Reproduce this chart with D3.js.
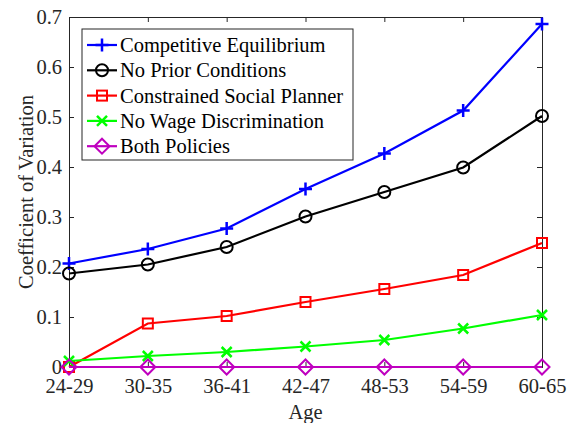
<!DOCTYPE html>
<html>
<head>
<meta charset="utf-8">
<script src="https://cdn.jsdelivr.net/npm/d3@7"></script>
<style>
  body { margin: 0; background: #fff; }
  svg { display: block; }
  text { font-family: "Liberation Serif", "Times New Roman", serif; fill: #262626; }
</style>
</head>
<body>
<svg id="chart" width="569" height="423"></svg>
<script>
// Age groups on the x axis
const ageGroups = ["24-29", "30-35", "36-41", "42-47", "48-53", "54-59", "60-65"];

// Coefficient of variation by scenario
const competitiveEquilibrium = [0.207, 0.236, 0.277, 0.356, 0.427, 0.513, 0.686];
const noPriorConditions      = [0.187, 0.205, 0.240, 0.301, 0.350, 0.399, 0.502];
const constrainedPlanner     = [0.000, 0.087, 0.102, 0.130, 0.156, 0.184, 0.248];
const noWageDiscrimination   = [0.012, 0.022, 0.030, 0.041, 0.054, 0.077, 0.104];
const bothPolicies           = [0, 0, 0, 0, 0, 0, 0];

const yTicks = [0, 0.1, 0.2, 0.3, 0.4, 0.5, 0.6, 0.7];

const series = [
  { name: "Competitive Equilibrium", values: competitiveEquilibrium, color: "#0000ff", marker: "plus" },
  { name: "No Prior Conditions", values: noPriorConditions, color: "#000000", marker: "circle" },
  { name: "Constrained Social Planner", values: constrainedPlanner, color: "#ff0000", marker: "square" },
  { name: "No Wage Discrimination", values: noWageDiscrimination, color: "#00ff00", marker: "cross" },
  { name: "Both Policies", values: bothPolicies, color: "#bf00bf", marker: "diamond" }
];

const FONT = "20.5px";
const svg = d3.select("#chart");
const m = { left: 69, right: 27, top: 17, bottom: 56 };
const W = 569, H = 423;
const iw = W - m.left - m.right, ih = H - m.top - m.bottom;

const x = d3.scalePoint().domain(ageGroups).range([0, iw]);
const y = d3.scaleLinear().domain([0, 0.7]).range([ih, 0]);

const g = svg.append("g").attr("transform", `translate(${m.left},${m.top})`);
const axisColor = "#262626";

// Axes with inward ticks on all four sides
const axL = g.append("g").call(d3.axisLeft(y).tickValues(yTicks).tickSize(-5).tickPadding(7).tickFormat(d3.format("")));
const axR = g.append("g").attr("transform", `translate(${iw},0)`).call(d3.axisRight(y).tickValues(yTicks).tickSize(-5).tickFormat(""));
const axB = g.append("g").attr("transform", `translate(0,${ih})`).call(d3.axisBottom(x).tickSize(-5).tickPadding(11));
const axT = g.append("g").call(d3.axisTop(x).tickSize(-5).tickFormat(""));
[axL, axR, axB, axT].forEach(a => {
  a.attr("font-family", null).attr("font-size", null);
  a.select(".domain").attr("stroke", axisColor).attr("stroke-width", 1);
  a.selectAll(".tick line").attr("stroke", axisColor);
  a.selectAll("text").style("font-size", FONT).attr("fill", axisColor);
});

// Marker drawing
function drawMarker(sel, type, color, s) {
  const sw = 2;
  if (type === "plus") {
    sel.append("path").attr("d", `M${-s},0H${s}M0,${-s}V${s}`).attr("stroke", color).attr("stroke-width", sw + 0.5).attr("fill", "none");
  } else if (type === "circle") {
    sel.append("circle").attr("r", s - 0.5).attr("stroke", color).attr("stroke-width", sw).attr("fill", "none");
  } else if (type === "square") {
    const h = s - 1.5;
    sel.append("rect").attr("x", -h).attr("y", -h).attr("width", 2 * h).attr("height", 2 * h).attr("stroke", color).attr("stroke-width", sw).attr("fill", "none");
  } else if (type === "cross") {
    const h = s - 1.5;
    sel.append("path").attr("d", `M${-h},${-h}L${h},${h}M${-h},${h}L${h},${-h}`).attr("stroke", color).attr("stroke-width", sw + 0.5).attr("fill", "none");
  } else if (type === "diamond") {
    const h = s + 1;
    sel.append("path").attr("d", `M0,${-h}L${h},0L0,${h}L${-h},0Z`).attr("stroke", color).attr("stroke-width", sw).attr("fill", "none");
  }
}

const line = d3.line().x((d, i) => x(ageGroups[i])).y(d => y(d));

series.forEach(s => {
  g.append("path").datum(s.values).attr("d", line).attr("fill", "none").attr("stroke", s.color).attr("stroke-width", 2.2);
  s.values.forEach((v, i) => {
    const mg = g.append("g").attr("transform", `translate(${x(ageGroups[i])},${y(v)})`);
    drawMarker(mg, s.marker, s.color, 6.5);
  });
});

// Axis labels
svg.append("text").attr("x", m.left + iw / 2).attr("y", 419).attr("text-anchor", "middle")
  .style("font-size", FONT).text("Age");
svg.append("text").attr("transform", `translate(33,${m.top + ih / 2}) rotate(-90)`).attr("text-anchor", "middle")
  .style("font-size", FONT).text("Coefficient of Variation");

// Legend
const lg = svg.append("g").attr("transform", "translate(82,29)");
lg.append("rect").attr("width", 271).attr("height", 131).attr("fill", "#fff").attr("stroke", axisColor).attr("stroke-width", 1);
series.forEach((s, i) => {
  const row = lg.append("g").attr("transform", `translate(0,${16 + i * 25.3})`);
  row.append("line").attr("x1", 5).attr("x2", 35).attr("stroke", s.color).attr("stroke-width", 2.2);
  drawMarker(row.append("g").attr("transform", "translate(20,0)"), s.marker, s.color, 6.5);
  row.append("text").attr("x", 38).attr("dy", "0.35em").style("font-size", FONT).style("fill", "#000").text(s.name);
});
</script>
</body>
</html>
